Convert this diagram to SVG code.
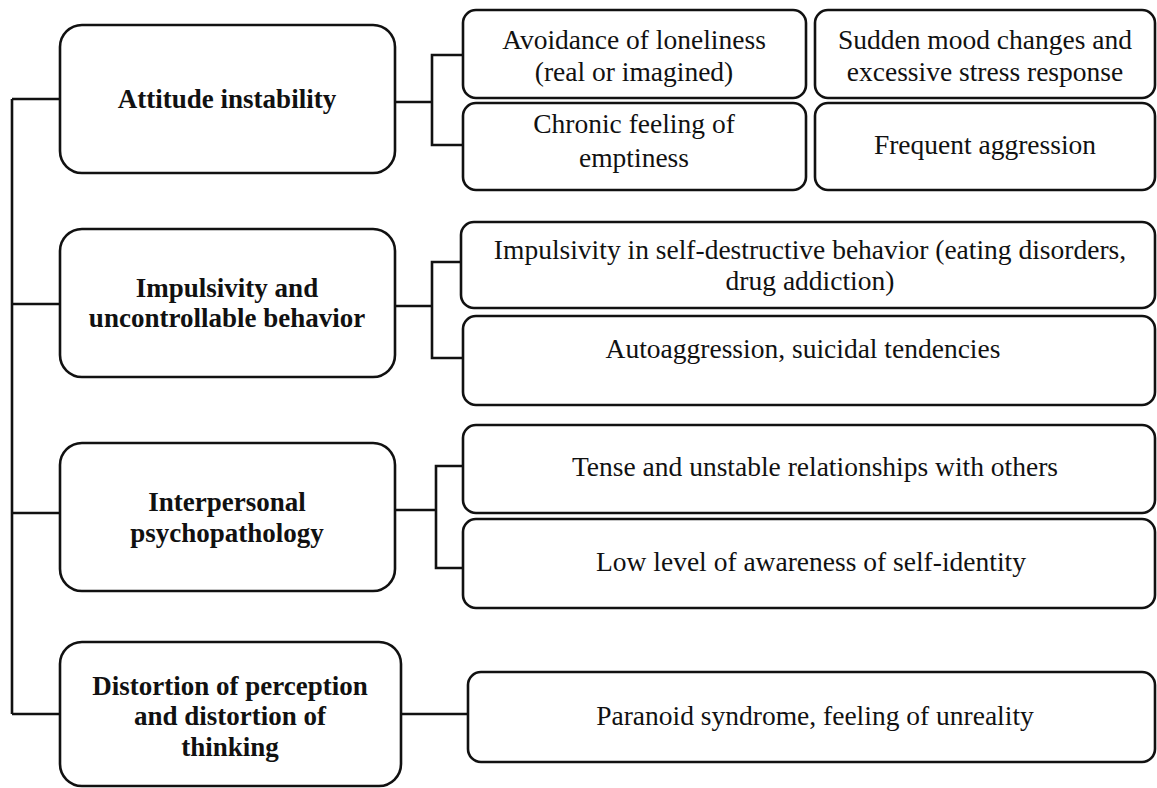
<svg xmlns="http://www.w3.org/2000/svg" width="1157" height="788" viewBox="0 0 1157 788">
<style>
.main{fill:#fff;stroke:#111;stroke-width:2.6}
.child{fill:#fff;stroke:#111;stroke-width:2.6}
.conn{fill:none;stroke:#111;stroke-width:2.6}
.tb{font-family:"Liberation Serif","Times New Roman",serif;font-weight:bold;font-size:27px;fill:#111;text-anchor:middle}
.tr{font-family:"Liberation Serif","Times New Roman",serif;font-size:27.5px;fill:#111;text-anchor:middle}
</style>
<rect width="1157" height="788" fill="#fff"/>
<g id="connectors">
<path class="conn" d="M12,99 V714 M12,99 H60 M12,304 H60 M12,513 H60 M12,714 H60"/>
<path class="conn" d="M395,102 H432 M463,55 H432 V145 H463"/>
<path class="conn" d="M395,306 H432 M463,262 H432 V358 H463"/>
<path class="conn" d="M395,510 H436 M463,466 H436 V568 H463"/>
<path class="conn" d="M401,714 H468"/>
</g>
<g id="attitude">
<rect class="main" x="60" y="25" width="335" height="148" rx="22"/>
<text class="tb" x="227" y="108">Attitude instability</text>
</g>
<g id="impulsivity">
<rect class="main" x="60" y="229" width="335" height="148" rx="22"/>
<text class="tb" x="227" y="297">Impulsivity and</text>
<text class="tb" x="227" y="327">uncontrollable behavior</text>
</g>
<g id="interpersonal">
<rect class="main" x="60" y="443" width="335" height="148" rx="22"/>
<text class="tb" x="227" y="511">Interpersonal</text>
<text class="tb" x="227" y="542">psychopathology</text>
</g>
<g id="distortion">
<rect class="main" x="60" y="642" width="341" height="144" rx="22"/>
<text class="tb" x="230" y="695">Distortion of perception</text>
<text class="tb" x="230" y="725">and distortion of</text>
<text class="tb" x="230" y="756">thinking</text>
</g>
<g id="avoidance">
<rect class="child" x="463" y="10" width="343" height="88" rx="13"/>
<text class="tr" x="634" y="49">Avoidance of loneliness</text>
<text class="tr" x="634" y="81">(real or imagined)</text>
</g>
<g id="sudden">
<rect class="child" x="815" y="10" width="340" height="88" rx="13"/>
<text class="tr" x="985" y="49">Sudden mood changes and</text>
<text class="tr" x="985" y="81">excessive stress response</text>
</g>
<g id="chronic">
<rect class="child" x="463" y="103" width="343" height="87" rx="13"/>
<text class="tr" x="634" y="133">Chronic feeling of</text>
<text class="tr" x="634" y="167">emptiness</text>
</g>
<g id="frequent">
<rect class="child" x="815" y="103" width="340" height="87" rx="13"/>
<text class="tr" x="985" y="154">Frequent aggression</text>
</g>
<g id="selfdestructive">
<rect class="child" x="461" y="222" width="694" height="86" rx="13"/>
<text class="tr" x="810" y="259">Impulsivity in self-destructive behavior (eating disorders,</text>
<text class="tr" x="810" y="290">drug addiction)</text>
</g>
<g id="autoaggression">
<rect class="child" x="463" y="316" width="692" height="89" rx="13"/>
<text class="tr" x="803" y="358">Autoaggression, suicidal tendencies</text>
</g>
<g id="tense">
<rect class="child" x="463" y="425" width="692" height="88" rx="13"/>
<text class="tr" x="815" y="476">Tense and unstable relationships with others</text>
</g>
<g id="lowlevel">
<rect class="child" x="463" y="519" width="692" height="89" rx="13"/>
<text class="tr" x="811" y="571">Low level of awareness of self-identity</text>
</g>
<g id="paranoid">
<rect class="child" x="468" y="672" width="687" height="90" rx="13"/>
<text class="tr" x="815" y="725">Paranoid syndrome, feeling of unreality</text>
</g>
</svg>
